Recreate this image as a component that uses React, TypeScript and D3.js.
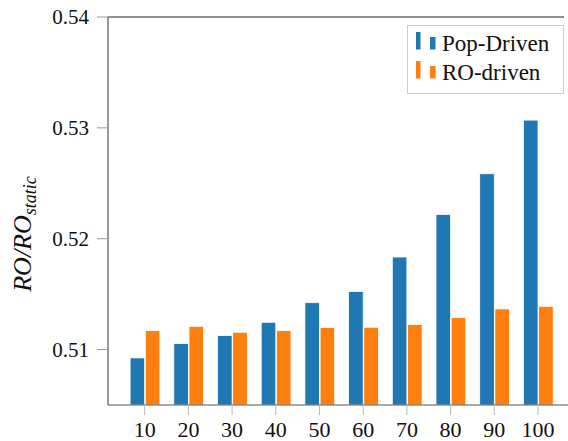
import React, { useEffect, useRef } from 'react';
import * as d3 from 'd3';

const categories = ['10', '20', '30', '40', '50', '60', '70', '80', '90', '100'];
const popDriven = [0.50925, 0.51054, 0.51126, 0.51246, 0.51423, 0.51523, 0.51835, 0.52219, 0.52586, 0.5307];
const roDriven = [0.51171, 0.5121, 0.51156, 0.51171, 0.51198, 0.51201, 0.51225, 0.51288, 0.51367, 0.5139];
const yTicks = [0.51, 0.52, 0.53, 0.54];

const BLUE = '#1f77b4';
const ORANGE = '#ff7f0e';
const SERIF = "'Liberation Serif', 'DejaVu Serif', 'Times New Roman', serif";

const App: React.FC = () => {
  const svgRef = useRef<SVGSVGElement>(null);

  useEffect(() => {
    if (!svgRef.current) return;
    const svg = d3.select(svgRef.current);
    svg.selectAll('*').remove();

    const left = 108, right = 568, top = 17, bottom = 405;

    const x = d3.scaleBand().domain(categories).range([122.85, 559.85]);
    const y = d3.scaleLinear().domain([0.505, 0.54]).range([bottom, top]);
    const barW = 14.6;

    // frame: top line, left spine
    svg.append('line').attr('x1', left).attr('x2', 564).attr('y1', top).attr('y2', top)
      .attr('stroke', '#222').attr('stroke-width', 1.2);
    svg.append('line').attr('x1', left).attr('x2', left).attr('y1', top).attr('y2', bottom)
      .attr('stroke', '#555').attr('stroke-width', 1.2);

    // y ticks
    const yg = svg.append('g');
    yTicks.forEach(t => {
      yg.append('line').attr('x1', left - 11).attr('x2', left).attr('y1', y(t)).attr('y2', y(t))
        .attr('stroke', '#999').attr('stroke-width', 1);
      yg.append('text').attr('x', 89).attr('y', y(t)).attr('dy', '0.34em')
        .attr('text-anchor', 'end').style('font-family', SERIF).attr('font-size', 21)
        .attr('fill', '#111').text(t.toFixed(2));
    });

    // bars
    const bars = svg.append('g');
    categories.forEach((c, i) => {
      const cx = (x(c) || 0) + x.bandwidth() / 2;
      bars.append('rect').attr('x', cx - barW).attr('y', y(popDriven[i]))
        .attr('width', barW).attr('height', bottom - y(popDriven[i]))
        .attr('fill', BLUE).attr('stroke', '#fff').attr('stroke-width', 0.8);
      bars.append('rect').attr('x', cx + 0.6).attr('y', y(roDriven[i]))
        .attr('width', barW).attr('height', bottom - y(roDriven[i]))
        .attr('fill', ORANGE).attr('stroke', '#fff').attr('stroke-width', 0.8);
    });

    // x axis
    svg.append('line').attr('x1', left).attr('x2', right).attr('y1', bottom).attr('y2', bottom)
      .attr('stroke', '#555').attr('stroke-width', 1.2);
    const xg = svg.append('g');
    categories.forEach(c => {
      const cx = (x(c) || 0) + x.bandwidth() / 2;
      xg.append('line').attr('x1', cx).attr('x2', cx).attr('y1', bottom).attr('y2', bottom + 10)
        .attr('stroke', '#bbb').attr('stroke-width', 1);
      xg.append('text').attr('x', cx).attr('y', 437).attr('text-anchor', 'middle')
        .style('font-family', SERIF).attr('font-size', 22).attr('fill', '#111').text(c);
    });

    // y label
    const yl = svg.append('text')
      .attr('transform', 'translate(31,234) rotate(-90)')
      .attr('text-anchor', 'middle').style('font-family', SERIF)
      .attr('font-style', 'italic').attr('font-size', 26).attr('fill', '#111');
    yl.append('tspan').text('RO/RO');
    yl.append('tspan').attr('font-size', 18).attr('dy', 5).text('static');

    // legend
    const lg = svg.append('g');
    lg.append('rect').attr('x', 407.5).attr('y', 25.5).attr('width', 156).attr('height', 68)
      .attr('fill', '#fff').attr('stroke', '#ccc').attr('stroke-width', 1);
    const items = [{ label: 'Pop-Driven', color: BLUE, cy: 43 }, { label: 'RO-driven', color: ORANGE, cy: 72 }];
    items.forEach(it => {
      lg.append('rect').attr('x', 416).attr('y', it.cy - 11).attr('width', 4.5).attr('height', 17.5)
        .attr('fill', it.color);
      lg.append('rect').attr('x', 430).attr('y', it.cy - 6).attr('width', 5.5).attr('height', 12.5)
        .attr('fill', it.color);
      lg.append('text').attr('x', 442).attr('y', it.cy).attr('dy', '0.34em')
        .style('font-family', SERIF).attr('font-size', 23).attr('fill', '#111').text(it.label);
    });
  }, []);

  return (
    <svg ref={svgRef} width={568} height={441}
      style={{ position: 'absolute', left: 0, top: 0, background: '#fff' }} />
  );
};

export default App;
